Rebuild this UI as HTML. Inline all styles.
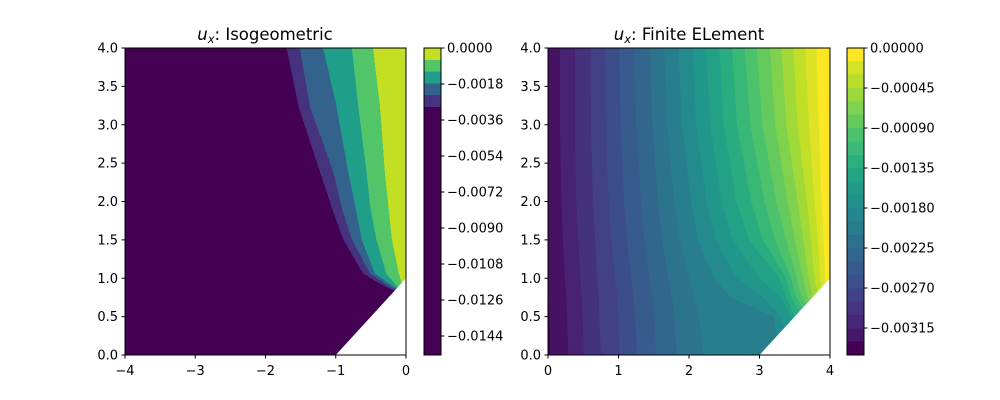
<!DOCTYPE html>
<html><head><meta charset="utf-8"><style>
body{margin:0;background:#fff}
svg{display:block;font-family:"DejaVu Sans","Liberation Sans",sans-serif}
</style></head><body>
<svg id="fig" width="1000" height="400" viewBox="0 0 1000 400">
<rect width="1000" height="400" fill="#fff"/>
<g id="left"></g>
<g id="right"></g>
<text x="265" y="40" font-size="16.5" text-anchor="middle"><tspan font-style="italic">u</tspan><tspan font-style="italic" font-size="11.5" dy="3">x</tspan><tspan dy="-3">: Isogeometric</tspan></text>
<text x="689" y="40" font-size="16.5" text-anchor="middle"><tspan font-style="italic">u</tspan><tspan font-style="italic" font-size="11.5" dy="3">x</tspan><tspan dy="-3">: Finite ELement</tspan></text>
</svg>
<script>
// ---- data ----
const leftYs=[4,3.24,2.37,1.93,1.5,1.06,0.93,0.85,0.75,0];
const leftBounds=[
[-1.70,-1.53,-1.22,-1.06,-0.89,-0.61,-0.37,-0.2,0.2,0.2],
[-1.51,-1.37,-1.03,-0.92,-0.77,-0.51,-0.3,-0.15,0.2,0.2],
[-1.18,-0.99,-0.82,-0.72,-0.63,-0.44,-0.24,-0.12,0.2,0.2],
[-0.77,-0.68,-0.56,-0.51,-0.42,-0.28,-0.16,-0.08,0.2,0.2],
[-0.47,-0.37,-0.30,-0.25,-0.20,-0.10,-0.06,-0.03,0.2,0.2]];
const leftColors=["#440154","#46337f","#33638d","#1f9e89","#52c569","#c2df23"];
const leftCbarColors=["#c2df23","#52c569","#1f9e89","#33638d","#46337f"];
const leftTicks=["0.0000","−0.0018","−0.0036","−0.0054","−0.0072","−0.0090","−0.0108","−0.0126","−0.0144"];
const rightYs=[4,3,2,1.5,1,0.75,0.5,0.25,0];
const rightBounds=[
[-0.1,-0.08,-0.05,-0.02,0,0.01,0.02,0.03,0.03],
[0.17,0.17,0.19,0.21,0.24,0.26,0.27,0.28,0.29],
[0.38,0.38,0.40,0.43,0.46,0.48,0.49,0.50,0.5],
[0.60,0.61,0.64,0.67,0.70,0.72,0.73,0.74,0.75],
[0.81,0.82,0.86,0.90,0.95,0.98,1.0,1.01,1.02],
[1.01,1.03,1.08,1.12,1.18,1.21,1.23,1.25,1.26],
[1.23,1.25,1.32,1.37,1.44,1.48,1.50,1.52,1.53],
[1.45,1.48,1.56,1.62,1.71,1.76,1.79,1.81,1.83],
[1.65,1.69,1.79,1.87,2.0,2.08,2.14,2.18,2.2],
[1.85,1.90,2.03,2.13,2.35,2.6,3.2,3.25,3.3],
[2.05,2.10,2.25,2.38,2.68,3.05,3.3,3.4,3.4],
[2.24,2.30,2.46,2.62,3.0,3.3,3.45,3.5,3.5],
[2.43,2.49,2.67,2.85,3.28,3.38,3.5,3.6,3.6],
[2.61,2.68,2.88,3.05,3.38,3.45,3.6,3.7,3.7],
[2.79,2.87,3.07,3.22,3.45,3.52,3.7,3.8,3.8],
[2.96,3.04,3.24,3.38,3.53,3.6,3.8,3.9,3.9],
[3.15,3.22,3.40,3.5,3.62,3.68,3.9,4,4],
[3.31,3.38,3.54,3.62,3.7,3.76,4,4.1,4.1],
[3.48,3.54,3.67,3.73,3.78,3.84,4.1,4.2,4.2],
[3.65,3.7,3.78,3.83,3.86,3.9,4.2,4.3,4.3],
[3.81,3.84,3.88,3.91,3.93,3.96,4.3,4.4,4.4]];
const rightTicks=["0.00000","−0.00045","−0.00090","−0.00135","−0.00180","−0.00225","−0.00270","−0.00315"];
const rightLevels=23;
const xTicksLeft=[-4,-3,-2,-1,0];
const xTicksRight=[0,1,2,3,4];
const yTicks=[0,0.5,1,1.5,2,2.5,3,3.5,4];

const NS="http://www.w3.org/2000/svg";
const vir=["#440154","#482475","#414487","#355f8d","#2a788e","#21918c","#22a884","#44bf70","#7ad151","#bddf26","#fde725"];
function hx(c){return [1,3,5].map(i=>parseInt(c.substr(i,2),16));}
function viridis(t){t=Math.max(0,Math.min(1,t))*10;const i=Math.min(9,Math.floor(t)),f=t-i;const a=hx(vir[i]),b=hx(vir[i+1]);return "rgb("+a.map((v,k)=>Math.round(v+(b[k]-v)*f)).join(",")+")";}
function mk(p,tag,attrs){const e=document.createElementNS(NS,tag);for(const k in attrs)e.setAttribute(k,attrs[k]);p.appendChild(e);return e;}
function interp(ys,xs,y){for(let i=0;i<ys.length-1;i++){if(y<=ys[i]&&y>=ys[i+1]){const f=(ys[i]-y)/(ys[i]-ys[i+1]);return xs[i]+(xs[i+1]-xs[i])*f;}}return xs[xs.length-1];}

function panel(g,cfg){
  const sx=v=>cfg.x0+(v-cfg.xmin)/(cfg.xmax-cfg.xmin)*(cfg.x1-cfg.x0);
  const sy=v=>355-v/4*307;
  const nb=cfg.bounds.length;
  const paths=Array.from({length:nb+1},()=>"");
  for(let r=48;r<355;r++){
    const y=4*(355-(r+0.5))/307;
    let prev=cfg.xmin;
    for(let k=0;k<=nb;k++){
      let nx=k<nb?interp(cfg.ys,cfg.bounds[k],y):cfg.xmax;
      nx=Math.max(prev,Math.min(cfg.xmax,nx));
      const a=sx(prev),b=sx(nx);
      if(b-a>0.01) paths[k]+="M"+a.toFixed(2)+" "+r+"H"+b.toFixed(2)+"V"+(r+1)+"H"+a.toFixed(2)+"Z";
      prev=nx;
    }
  }
  paths.forEach((d,k)=>{if(!d)return;
    const p=mk(g,"path",{d:d,fill:cfg.color(k),"shape-rendering":"crispEdges"});
    
    
  });
  const t=mk(g,"polygon",{points:cfg.tri.map(q=>sx(q[0])+","+sy(q[1])).join(" "),fill:"#fff"});
  
  
  const fr=mk(g,"rect",{x:cfg.x0,y:48,width:cfg.x1-cfg.x0,height:307,fill:"none",stroke:"#000","stroke-width":1});
  
  
  cfg.xt.forEach(v=>{
    const X=sx(v);
    const l=mk(g,"line",{x1:X,x2:X,y1:355,y2:358.5,stroke:"#000"});
    
    
    const tx=mk(g,"text",{x:X,y:375,"font-size":13,"text-anchor":"middle"});
    tx.textContent=(v<0?"−"+(-v):String(v));
    
    
  });
  yTicks.forEach(v=>{
    const Y=sy(v);
    const l=mk(g,"line",{x1:cfg.x0-3.5,x2:cfg.x0,y1:Y,y2:Y,stroke:"#000"});
    
    
    const tx=mk(g,"text",{x:cfg.x0-7,y:Y+4.5,"font-size":13,"text-anchor":"end"});
    tx.textContent=v.toFixed(1);
    
    
  });
  const cb=cfg.cb, n=cfg.cbColors.length, h=307/cfg.cbLevels;
  for(let i=0;i<cfg.cbLevels;i++){
    const c=i<n?cfg.cbColors[i]:cfg.cbColors[n-1];
    const rr=mk(g,"rect",{x:cb,y:48+i*h,width:17,height:h+0.5,fill:c,"shape-rendering":"crispEdges"});
    
    
  }
  const cf=mk(g,"rect",{x:cb,y:48,width:17,height:307,fill:"none",stroke:"#000"});
  
  
  cfg.ticks.forEach((s,i)=>{
    const Y=48+i*cfg.tickStep;
    const l=mk(g,"line",{x1:cb+17,x2:cb+20.5,y1:Y,y2:Y,stroke:"#000"});
    
    
    const tx=mk(g,"text",{x:cb+23,y:Y+4.5,"font-size":13});
    tx.textContent=s;
    
    
  });
}
const lcb=leftCbarColors.slice();
panel(document.getElementById("left"),{x0:125,x1:406,xmin:-4,xmax:0,ys:leftYs,bounds:leftBounds,
  color:k=>leftColors[k],tri:[[-1,0],[0,0],[0,1]],xt:xTicksLeft,cb:424,
  cbColors:lcb.concat(Array(21).fill("#440154")),cbLevels:26,ticks:leftTicks,tickStep:36});
const rc=[];for(let i=0;i<rightLevels;i++)rc.push(viridis(1-(i+0.5)/rightLevels));
rc[0]="#fde725";rc[rightLevels-1]="#440154";
panel(document.getElementById("right"),{x0:548,x1:830,xmin:0,xmax:4,ys:rightYs,bounds:rightBounds,
  color:k=>viridis(k/rightBounds.length),tri:[[3,0],[4,0],[4,1]],xt:xTicksRight,cb:847,
  cbColors:rc,cbLevels:rightLevels,ticks:rightTicks,tickStep:40});
</script>
</body></html>
